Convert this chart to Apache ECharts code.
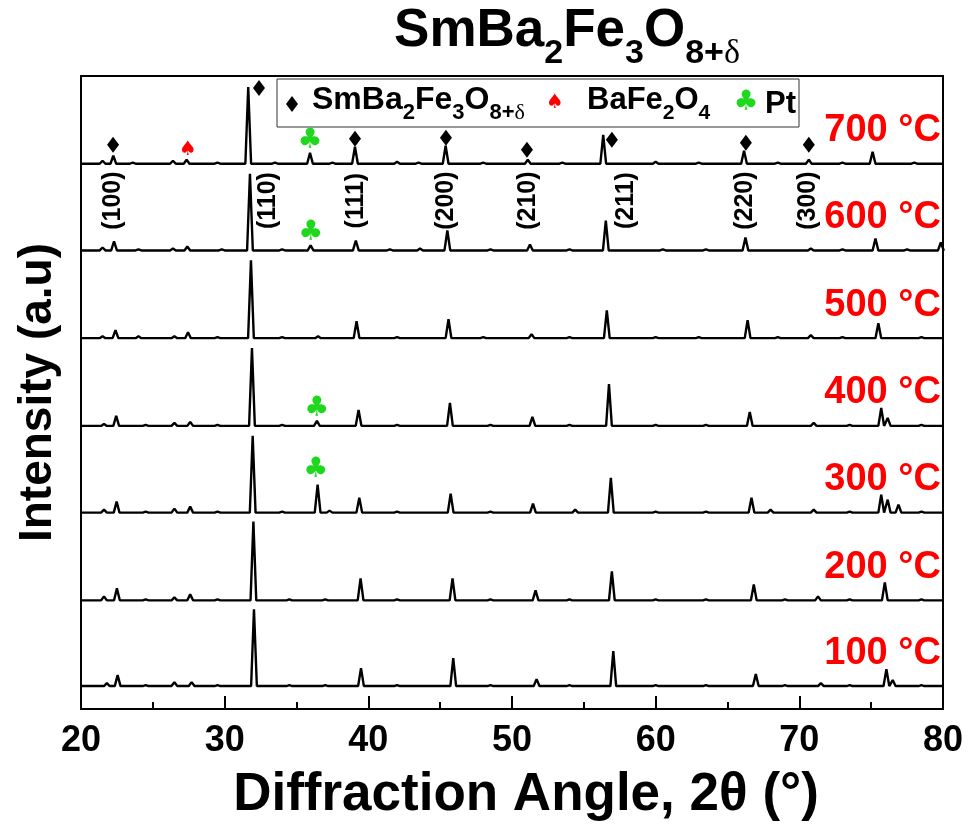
<!DOCTYPE html>
<html>
<head>
<meta charset="utf-8">
<script src="https://cdn.jsdelivr.net/npm/echarts@6/dist/echarts.min.js"></script>
<style>
html,body{margin:0;padding:0;background:#fff;}
#main{width:970px;height:827px;}
</style>
</head>
<body>
<div id="main"></div>
<script>
var F = 'Arial, "Liberation Sans", sans-serif';

// temperatures, top to bottom, and the stacking baseline of each trace
var temps = ['700 °C', '600 °C', '500 °C', '400 °C', '300 °C', '200 °C', '100 °C'];
var baselines = [547, 460, 372, 284, 197, 109, 23];

// peaks: [2theta, height above baseline]
var peaks700 = [[21.5,3],[22.25,8],[23.6,1],[26.4,3],[27.35,4],[29.5,1],[31.64,77],[33.5,1],[35.94,11],[37.5,1],[39.07,17],[42.0,2],[43.5,1],[45.38,18],[48.0,1],[51.1,4],[53.5,1],[56.35,29],[60.0,2],[63.0,1],[66.15,13],[68.5,1],[70.66,4],[73.0,1],[75.1,12],[78.0,1]];
var peaks600 = [[21.5,3],[22.3,9],[24.0,1],[26.4,2],[27.4,4],[29.8,1],[31.76,77],[34.0,1],[35.98,5],[39.13,10],[41.5,1],[43.6,2],[45.5,20],[48.5,1],[51.25,6],[54.0,1],[56.53,30],[60.5,1],[63.5,1],[66.25,13],[70.8,2],[73.0,1],[75.3,12],[77.5,1],[79.85,8]];
var peaks500 = [[21.5,2],[22.4,8],[24.0,2],[26.5,2],[27.45,6],[29.5,1],[31.83,78],[34.0,1],[36.5,2],[39.18,17],[42.0,1],[45.58,19],[48.0,1],[51.36,4],[54.0,1],[56.6,28],[60.0,1],[63.0,1],[66.4,18],[68.5,1],[70.8,3],[73.0,1],[75.5,15],[78.5,1]];
var peaks400 = [[21.6,2],[22.45,10],[24.5,1],[26.5,3],[27.6,4],[29.5,1],[31.9,78],[34.0,1],[36.42,5],[39.32,16],[42.0,1],[45.68,23],[48.5,1],[51.42,9],[54.0,1],[56.75,42],[60.0,1],[63.5,1],[66.55,14],[71.0,3],[73.5,1],[75.7,18],[76.15,8],[78.5,1]];
var peaks300 = [[21.6,3],[22.48,11],[24.5,1],[26.5,4],[27.6,6],[29.5,1],[31.95,77],[34.0,1],[36.47,28],[37.3,2],[39.37,15],[42.0,1],[45.73,19],[48.5,1],[51.46,9],[54.4,3],[56.88,35],[60.0,1],[63.5,1],[66.67,15],[68.0,3],[71.0,3],[73.5,1],[75.7,18],[76.15,13],[76.9,8],[78.5,1]];
var peaks200 = [[21.6,4],[22.5,12],[24.5,1],[26.5,3],[27.6,6],[29.5,1],[32.0,79],[34.5,1],[37.0,1],[39.46,22],[42.0,1],[45.86,22],[48.5,1],[51.64,10],[54.0,1],[56.95,29],[60.0,1],[63.5,1],[66.83,16],[69.0,1],[71.3,4],[73.5,1],[75.95,18],[78.5,1]];
var peaks100 = [[21.8,3],[22.55,11],[24.5,1],[26.5,4],[27.7,4],[29.5,1],[32.04,77],[34.5,1],[37.0,1],[39.49,18],[42.0,1],[45.91,28],[48.5,1],[51.71,7],[54.0,1],[57.05,35],[60.0,1],[63.5,1],[66.97,12],[69.0,1],[71.5,3],[73.5,1],[76.06,17],[76.5,6],[78.5,1]];
var allPeaks = [peaks700, peaks600, peaks500, peaks400, peaks300, peaks200, peaks100];

// phase markers on the traces
var diamondPts = [[22.23,566],[32.39,623],[39.07,572],[45.4,573],[51.04,561],[56.95,571],[66.28,568],[70.66,566]];
var spadePts = [[27.45,561]];
var clubPts = [[35.94,570],[36.0,478],[36.42,301],[36.35,240]];

// hkl labels
var hklNames = ['(100)','(110)','(111)','(200)','(210)','(211)','(220)','(300)'];
var hklPos = [22.23, 33.0, 39.14, 45.4, 51.1, 57.93, 66.2, 70.6];

function trace(base, pk) {
  var pts = [[20, base]];
  pk.forEach(function (p) {
    pts.push([p[0] - 0.2, base], [p[0], base + p[1]], [p[0] + 0.2, base]);
  });
  pts.push([80, base]);
  return pts;
}

var series = [];
allPeaks.forEach(function (pk, i) {
  series.push({
    type: 'line', name: temps[i], data: trace(baselines[i], pk),
    symbol: 'none', silent: true,
    lineStyle: {color: '#000', width: 2.4}
  });
});

series.push({
  type: 'scatter', data: diamondPts, symbol: 'diamond', symbolSize: [12, 16],
  itemStyle: {color: '#000', opacity: 1}, silent: true
});
series.push({
  type: 'scatter', data: spadePts, symbolSize: 0, silent: true, itemStyle: {opacity: 1},
  label: {show: true, position: 'inside', formatter: '♠', color: '#ff0000', fontSize: 20, fontFamily: '"DejaVu Sans"'}
});
series.push({
  type: 'scatter', data: clubPts, symbolSize: 0, silent: true, itemStyle: {opacity: 1},
  label: {show: true, position: 'inside', formatter: '♣', color: '#1ed81e', fontSize: 28, fontFamily: '"DejaVu Sans"'}
});
series.push({
  type: 'scatter', symbolSize: 0, silent: true, itemStyle: {opacity: 1},
  data: hklPos.map(function (x, i) { return {value: [x, 510], name: hklNames[i]}; }),
  label: {show: true, position: 'inside', rotate: 90, formatter: '{b}', color: '#000', fontSize: 25, fontWeight: 'bold', fontFamily: F}
});
series.push({
  type: 'scatter', symbolSize: 0, silent: true, itemStyle: {opacity: 1},
  data: temps.map(function (t, i) { return {value: [79.85, baselines[i] + 33], name: t}; }),
  label: {show: true, position: 'left', distance: 0, formatter: '{b}', color: '#ff0000', fontSize: 38, fontWeight: 'bold', fontFamily: F}
});

var rich = function (big, small) {
  return {
    n: {fontSize: big, fontWeight: 'bold', fontFamily: F, fill: '#000', verticalAlign: 'top', padding: [0, 0, Math.round(big * 0.25), 0]},
    s: {fontSize: small, fontWeight: 'bold', fontFamily: F, fill: '#000', verticalAlign: 'bottom'},
    d: {fontSize: small, fontFamily: '"Liberation Serif", serif', fill: '#000', verticalAlign: 'bottom'}
  };
};

var myChart = echarts.init(document.getElementById('main'));
var option = {
  animation: false,
  backgroundColor: '#fff',
  grid: {left: 81, right: 27, top: 76, bottom: 116, show: true, borderColor: '#000', borderWidth: 2},
  xAxis: {
    type: 'value', min: 20, max: 80, interval: 10,
    axisLine: {lineStyle: {color: '#000', width: 2}},
    axisTick: {inside: true, length: 13, lineStyle: {color: '#000', width: 2}},
    minorTick: {show: true, splitNumber: 2, length: 7, lineStyle: {color: '#000', width: 2}},
    splitLine: {show: false},
    axisLabel: {fontSize: 36, fontWeight: 'bold', color: '#000', margin: 14, fontFamily: F},
    name: 'Diffraction Angle, 2θ (°)', nameLocation: 'middle', nameGap: 60,
    nameTextStyle: {fontSize: 53, fontWeight: 'bold', color: '#000', fontFamily: F, padding: [0, 0, 0, 28]}
  },
  yAxis: {
    type: 'value', min: 0, max: 635,
    axisLine: {lineStyle: {color: '#000', width: 2}},
    axisTick: {show: false}, axisLabel: {show: false}, splitLine: {show: false},
    name: 'Intensity (a.u)', nameLocation: 'middle', nameGap: 20,
    nameTextStyle: {fontSize: 46, fontWeight: 'bold', color: '#000', fontFamily: F}
  },
  graphic: [
    {type: 'text', style: {text: '{n|SmBa}{s|2}{n|Fe}{s|3}{n|O}{s|8+}{d|δ}', rich: rich(53, 34), x: 567, y: 38, align: 'center', verticalAlign: 'middle'}},
    {type: 'rect', shape: {x: 277, y: 79, width: 522, height: 48}, style: {fill: '#fff', stroke: '#333', lineWidth: 1}},
    {type: 'polygon', shape: {points: [[292, 96], [298, 104], [292, 112], [286, 104]]}, style: {fill: '#000'}},
    {type: 'text', style: {text: '{n|SmBa}{s|2}{n|Fe}{s|3}{n|O}{s|8+}{d|δ}', rich: rich(32, 22), x: 312, y: 104, align: 'left', verticalAlign: 'middle'}},
    {type: 'text', style: {text: '♠', x: 555, y: 103, align: 'center', verticalAlign: 'middle', fill: '#ff0000', font: '20px "DejaVu Sans"'}},
    {type: 'text', style: {text: '{n|BaFe}{s|2}{n|O}{s|4}', rich: rich(31, 21), x: 587, y: 104, align: 'left', verticalAlign: 'middle'}},
    {type: 'text', style: {text: '♣', x: 746, y: 103, align: 'center', verticalAlign: 'middle', fill: '#1ed81e', font: '28px "DejaVu Sans"'}},
    {type: 'text', style: {text: 'Pt', x: 765, y: 104, align: 'left', verticalAlign: 'middle', fill: '#000', font: 'bold 31px ' + F}}
  ],
  series: series
};
myChart.setOption(option);
</script>
</body>
</html>
